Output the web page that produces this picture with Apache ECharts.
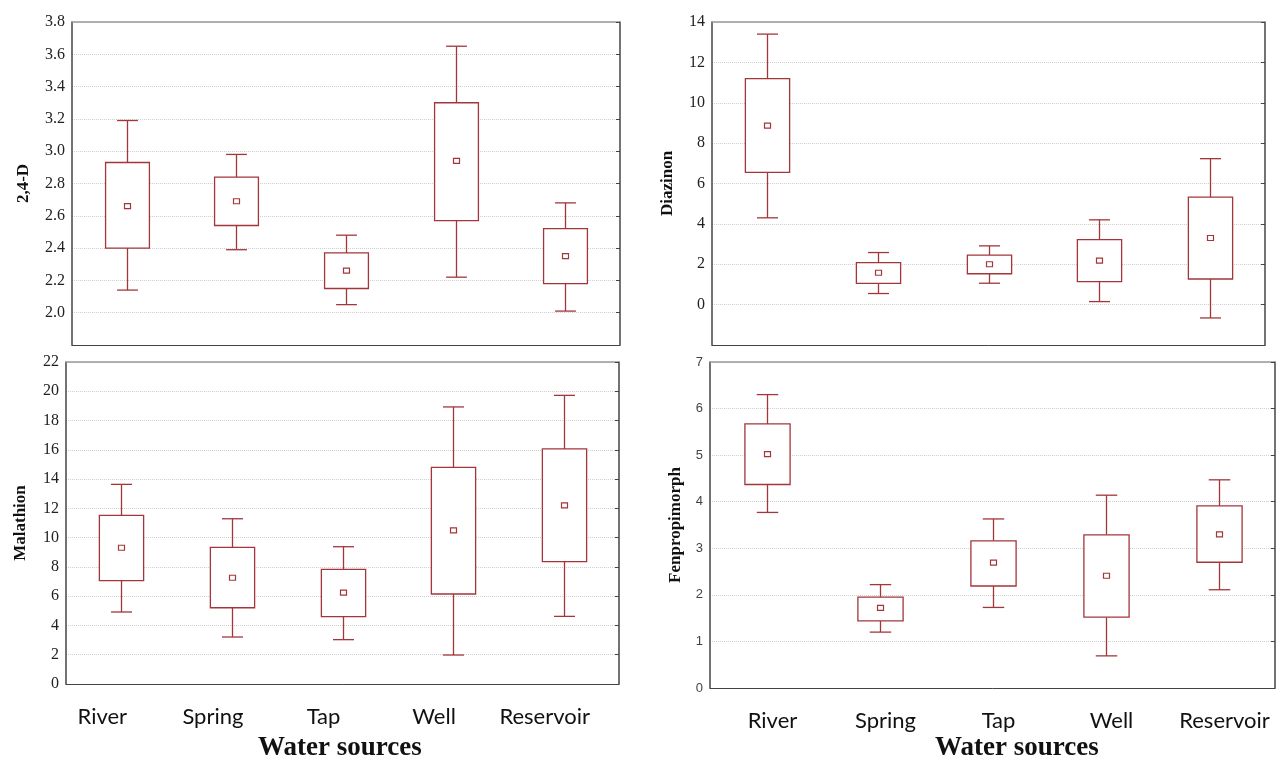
<!DOCTYPE html>
<html>
<head>
<meta charset="utf-8">
<title>Pesticides by water source</title>
<script src="https://cdn.jsdelivr.net/npm/echarts@6/dist/echarts.min.js"></script>
<style>
  html, body { margin: 0; padding: 0; background: #fff; }
  #chart { width: 1283px; height: 761px; }
</style>
</head>
<body>
<div id="chart"></div>
<script>
const sources = ['River', 'Spring', 'Tap', 'Well', 'Reservoir'];

// each pesticide: whisker low, box low, mean, box high, whisker high
const d24Low = [2.14, 2.39, 2.05, 2.22, 2.01];
const d24BoxLow = [2.40, 2.54, 2.15, 2.57, 2.18];
const d24Mean = [2.66, 2.69, 2.26, 2.94, 2.35];
const d24BoxHigh = [2.93, 2.84, 2.37, 3.30, 2.52];
const d24High = [3.19, 2.98, 2.48, 3.65, 2.68];

const diazLow = [4.3, 0.55, 1.06, 0.15, -0.66];
const diazBoxLow = [6.55, 1.05, 1.53, 1.14, 1.27];
const diazMean = [8.87, 1.58, 2.0, 2.18, 3.30];
const diazBoxHigh = [11.2, 2.08, 2.45, 3.22, 5.33];
const diazHigh = [13.4, 2.58, 2.91, 4.2, 7.23];

const malaLow = [4.92, 3.21, 3.03, 1.98, 4.62];
const malaBoxLow = [7.06, 5.21, 4.60, 6.15, 8.36];
const malaMean = [9.31, 7.26, 6.24, 10.5, 12.2];
const malaBoxHigh = [11.52, 9.33, 7.83, 14.8, 16.06];
const malaHigh = [13.64, 11.29, 9.38, 18.93, 19.72];

const fenLow = [3.77, 1.20, 1.73, 0.69, 2.11];
const fenBoxLow = [4.37, 1.44, 2.19, 1.52, 2.70];
const fenMean = [5.02, 1.72, 2.69, 2.41, 3.30];
const fenBoxHigh = [5.67, 1.95, 3.16, 3.29, 3.91];
const fenHigh = [6.30, 2.22, 3.63, 4.14, 4.47];

const boxColor = '#a3363a';
const serif = '"Liberation Serif", "DejaVu Serif", serif';

const panels = [
  {
    name: '2,4-D', lows: d24Low, boxLows: d24BoxLow, means: d24Mean, boxHighs: d24BoxHigh, highs: d24High,
    grid: { left: 72, top: 22, width: 548, height: 323 },
    min: 1.8, max: 3.8, interval: 0.2, decimals: 1, nameGap: 40, showMin: false,
    showCats: false, sansLabels: false
  },
  {
    name: 'Diazinon', lows: diazLow, boxLows: diazBoxLow, means: diazMean, boxHighs: diazBoxHigh, highs: diazHigh,
    grid: { left: 712, top: 22, width: 553, height: 323 },
    min: -2, max: 14, interval: 2, decimals: 0, nameGap: 36, showMin: false,
    showCats: false, sansLabels: false
  },
  {
    name: 'Malathion', lows: malaLow, boxLows: malaBoxLow, means: malaMean, boxHighs: malaBoxHigh, highs: malaHigh,
    grid: { left: 66, top: 362, width: 553, height: 322 },
    min: 0, max: 22, interval: 2, decimals: 0, nameGap: 37, showMin: true,
    showCats: true, catPad: [0, 38, 0, 0], sansLabels: false
  },
  {
    name: 'Fenpropimorph', lows: fenLow, boxLows: fenBoxLow, means: fenMean, boxHighs: fenBoxHigh, highs: fenHigh,
    grid: { left: 710, top: 362, width: 565, height: 326 },
    min: 0, max: 7, interval: 1, decimals: 0, nameGap: 26, showMin: true,
    showCats: true, catPad: [0, 0, 0, 12], sansLabels: true
  }
];

function renderBox(params, api) {
  const i = api.value(0);
  const lo = api.coord([i, api.value(1)]);
  const bLo = api.coord([i, api.value(2)]);
  const mid = api.coord([i, api.value(3)]);
  const bHi = api.coord([i, api.value(4)]);
  const hi = api.coord([i, api.value(5)]);
  const band = api.size([1, 0])[0];
  const bw = band * 0.4;
  const cw = band * 0.19;
  const x = Math.round(mid[0]) + 0.5;
  const line = { stroke: boxColor, lineWidth: 1.3 };
  return {
    type: 'group',
    children: [
      { type: 'line', shape: { x1: x, y1: hi[1], x2: x, y2: bHi[1] }, style: line },
      { type: 'line', shape: { x1: x, y1: bLo[1], x2: x, y2: lo[1] }, style: line },
      { type: 'line', shape: { x1: x - cw / 2, y1: hi[1], x2: x + cw / 2, y2: hi[1] }, style: line },
      { type: 'line', shape: { x1: x - cw / 2, y1: lo[1], x2: x + cw / 2, y2: lo[1] }, style: line },
      {
        type: 'rect',
        shape: { x: x - bw / 2, y: bHi[1], width: bw, height: bLo[1] - bHi[1] },
        style: { fill: '#fff', stroke: boxColor, lineWidth: 1.3 }
      },
      {
        type: 'rect',
        shape: { x: x - 3, y: mid[1] - 2.5, width: 6, height: 5 },
        style: { fill: '#fff', stroke: boxColor, lineWidth: 1.2 }
      }
    ]
  };
}

const grids = [];
const xAxes = [];
const yAxes = [];
const series = [];

panels.forEach((p, k) => {
  grids.push(p.grid);

  xAxes.push({
    gridIndex: k,
    type: 'category',
    data: sources,
    position: 'bottom',
    axisLine: { onZero: false, lineStyle: { color: '#444', width: 1 } },
    axisTick: { inside: true, alignWithLabel: true, length: 4, lineStyle: { color: '#444' } },
    axisLabel: {
      show: p.showCats,
      interval: 0,
      margin: 22,
      color: '#111',
      fontFamily: 'Lato, "Open Sans", sans-serif',
      fontSize: 22,
      padding: p.catPad || 0
    }
  });
  xAxes.push({
    gridIndex: k,
    type: 'category',
    data: sources,
    position: 'top',
    axisLine: { onZero: false, lineStyle: { color: '#999', width: 1.5 } },
    axisTick: { inside: true, alignWithLabel: true, length: 4, lineStyle: { color: '#444' } },
    axisLabel: { show: false }
  });

  yAxes.push({
    gridIndex: k,
    type: 'value',
    min: p.min,
    max: p.max,
    interval: p.interval,
    name: p.name,
    nameLocation: 'middle',
    nameRotate: 90,
    nameGap: p.nameGap,
    nameTextStyle: { fontFamily: serif, fontWeight: 'bold', fontSize: 17, color: '#111' },
    axisLine: { show: true, onZero: false, lineStyle: { color: '#444', width: 1.5 } },
    axisTick: { show: false },
    axisLabel: {
      showMinLabel: p.showMin,
      margin: 7,
      color: p.sansLabels ? '#444' : '#222',
      fontFamily: p.sansLabels ? '"Liberation Sans", Arial, sans-serif' : serif,
      fontSize: p.sansLabels ? 13 : 16,
      formatter: v => v.toFixed(p.decimals)
    },
    splitLine: { show: true, lineStyle: { color: '#cfcfcf', type: 'dotted', width: 1 } }
  });
  yAxes.push({
    gridIndex: k,
    type: 'value',
    min: p.min,
    max: p.max,
    interval: p.interval,
    position: 'right',
    axisLine: { show: true, onZero: false, lineStyle: { color: '#444', width: 1.5 } },
    axisTick: { show: true, inside: true, length: 4, lineStyle: { color: '#444' } },
    axisLabel: { show: false },
    splitLine: { show: false }
  });

  series.push({
    type: 'custom',
    name: p.name,
    xAxisIndex: 2 * k,
    yAxisIndex: 2 * k,
    renderItem: renderBox,
    encode: { x: 0, y: [1, 2, 3, 4, 5] },
    data: sources.map((s, i) => [i, p.lows[i], p.boxLows[i], p.means[i], p.boxHighs[i], p.highs[i]]),
    z: 3
  });
});

const chart = echarts.init(document.getElementById('chart'));
chart.setOption({
  backgroundColor: '#fff',
  animation: false,
  grid: grids,
  xAxis: xAxes,
  yAxis: yAxes,
  series: series,
  graphic: [
    {
      type: 'text', left: 258, top: 735,
      style: { text: 'Water sources', font: 'bold 27px ' + serif, fill: '#111' }
    },
    {
      type: 'text', left: 935, top: 735,
      style: { text: 'Water sources', font: 'bold 27px ' + serif, fill: '#111' }
    }
  ]
});
</script>
</body>
</html>
